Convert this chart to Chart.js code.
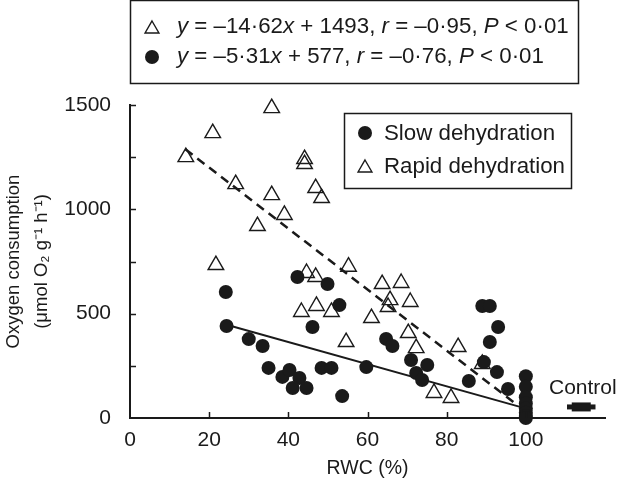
<!DOCTYPE html>
<html>
<head>
<meta charset="utf-8">
<script src="https://cdn.jsdelivr.net/npm/chart.js@4.4.0/dist/chart.umd.min.js"></script>
<style>
  html, body { margin: 0; padding: 0; background: #fff; }
  #wrap { width: 620px; height: 485px; }
</style>
</head>
<body>
<div id="wrap"><canvas id="oxyChart" width="620" height="485"></canvas></div>
<script>
// values (RWC %, umol O2 g-1 h-1)
const rapidX = [14.1, 20.9, 35.8, 21.7, 26.7, 32.2, 35.8, 39.0, 44.1, 44.1, 46.9, 48.4, 44.6, 46.9, 43.3, 47.1,
  50.9, 55.2, 54.6, 63.7, 68.5, 65.7, 65.2, 70.8, 61.0, 70.3, 72.3, 82.9, 76.8, 81.1, 89.0];
const rapidY = [1250, 1365, 1485, 733, 1121, 920, 1068, 973, 1241, 1217, 1102, 1054, 695, 676, 508, 537,
  508, 725, 364, 642, 647, 565, 532, 556, 479, 407, 335, 340, 120, 96, 259];

const slowX = [24.2, 24.4, 30.0, 33.5, 35.0, 38.5, 40.3, 42.8, 41.1, 44.6, 42.3, 49.9, 52.9, 46.1, 48.4, 50.9,
  53.6, 59.7, 64.7, 66.3, 71.0, 75.1, 72.3, 73.8, 85.6, 89.0, 90.9, 93.0, 90.9, 89.4, 92.7, 95.5,
  100, 100, 100, 100, 100, 100, 100, 100];
const slowY = [604, 441, 378, 345, 240, 197, 230, 192, 144, 144, 676, 642, 541, 436, 240, 240,
  105, 244, 379, 345, 278, 254, 216, 182, 177, 537, 537, 436, 364, 268, 220, 139,
  200, 150, 100, 70, 45, 25, 10, 0];

// regression lines, end points
const rapidFitX = [14, 98];
const rapidFitY = [1288, 60];
const slowFitX = [24.4, 99];
const slowFitY = [447, 51];

// control mean and error
const controlX = [114];
const controlY = [53];
const controlErr = [3.6];

const xTicks = [0, 20, 40, 60, 80, 100];
const yTicks = [0, 500, 1000, 1500];
const yMinorStep = 250;

const ink = '#1a1a1a';
const FONT = '"Liberation Sans", Arial, Helvetica, sans-serif';
const markHalf = 2.4;

const toPts = (xs, ys) => xs.map((x, i) => ({ x: x, y: ys[i] }));

const extras = {
  id: 'extras',
  afterDraw(chart) {
    const ctx = chart.ctx;
    const xs = chart.scales.x, ys = chart.scales.y;
    const area = chart.chartArea;
    ctx.save();
    ctx.strokeStyle = ink;
    ctx.lineWidth = 1.5;
    // inward tick marks
    ctx.beginPath();
    for (let v = yMinorStep; v <= ys.max; v += yMinorStep) {
      const py = Math.round(ys.getPixelForValue(v)) + 0.5;
      ctx.moveTo(area.left, py);
      ctx.lineTo(area.left + 6, py);
    }
    xTicks.slice(1).forEach(v => {
      const px = Math.round(xs.getPixelForValue(v)) + 0.5;
      ctx.moveTo(px, area.bottom);
      ctx.lineTo(px, area.bottom - 6);
    });
    ctx.stroke();

    // Control label
    ctx.fillStyle = ink;
    ctx.font = '21px ' + FONT;
    ctx.textAlign = 'center';
    ctx.textBaseline = 'middle';
    ctx.fillText('Control', xs.getPixelForValue(114.4), ys.getPixelForValue(144));

    const tri = { pointStyle: 'triangle', radius: 8, borderWidth: 1.4 };
    const dot = { pointStyle: 'circle', radius: 7, borderWidth: 0 };
    const marker = (o, x, y, fill) => {
      ctx.fillStyle = fill;
      ctx.strokeStyle = ink;
      ctx.lineWidth = o.borderWidth || 1;
      Chart.helpers.drawPoint(ctx, o, x, y);
    };

    // equation box
    ctx.lineWidth = 1.5;
    ctx.strokeStyle = ink;
    ctx.strokeRect(130.5, 0.5, 448, 83);
    marker(tri, 152, 29, 'rgba(0,0,0,0)');
    marker(dot, 152, 57, ink);
    const runs = (parts, x, y) => {
      ctx.textAlign = 'left';
      ctx.fillStyle = ink;
      parts.forEach(p => {
        ctx.font = (p[1] ? 'italic ' : '') + '22.3px ' + FONT;
        ctx.fillText(p[0], x, y);
        x += ctx.measureText(p[0]).width;
      });
    };
    runs([['y', 1], [' = \u201314\u00b762', 0], ['x', 1], [' + 1493, ', 0], ['r', 1], [' = \u20130\u00b795, ', 0], ['P', 1], [' < 0\u00b701', 0]], 177, 27);
    runs([['y', 1], [' = \u20135\u00b731', 0], ['x', 1], [' + 577, ', 0], ['r', 1], [' = \u20130\u00b776, ', 0], ['P', 1], [' < 0\u00b701', 0]], 177, 57);

    // series legend
    ctx.lineWidth = 1.5;
    ctx.strokeStyle = ink;
    ctx.strokeRect(344.5, 113.5, 227, 75);
    marker(dot, 365, 133, ink);
    marker(tri, 365, 168, 'rgba(0,0,0,0)');
    runs([['Slow dehydration', 0]], 384, 134);
    runs([['Rapid dehydration', 0]], 384, 167);
    ctx.restore();
  }
};

new Chart(document.getElementById('oxyChart'), {
  type: 'scatter',
  data: {
    datasets: [
      {
        label: 'Slow dehydration',
        data: toPts(slowX, slowY),
        pointStyle: 'circle',
        pointRadius: 7,
        pointBackgroundColor: ink,
        pointBorderWidth: 0,
        clip: false
      },
      {
        label: 'Rapid dehydration',
        data: toPts(rapidX, rapidY),
        pointStyle: 'triangle',
        pointRadius: 9,
        pointBackgroundColor: 'rgba(0,0,0,0)',
        pointBorderColor: ink,
        pointBorderWidth: 1.4,
        clip: false
      },
      {
        type: 'line',
        data: toPts(rapidFitX, rapidFitY),
        borderColor: ink,
        borderWidth: 2.5,
        borderDash: [9, 6],
        pointRadius: 0
      },
      {
        type: 'line',
        data: toPts(slowFitX, slowFitY),
        borderColor: ink,
        borderWidth: 2,
        pointRadius: 0
      },
      {
        type: 'line',
        data: [{ x: controlX[0] - controlErr[0], y: controlY[0] }, { x: controlX[0] + controlErr[0], y: controlY[0] }],
        borderColor: ink,
        borderWidth: 5,
        borderCapStyle: 'butt',
        pointRadius: 0
      },
      {
        type: 'line',
        data: [{ x: controlX[0] - markHalf, y: controlY[0] }, { x: controlX[0] + markHalf, y: controlY[0] }],
        borderColor: ink,
        borderWidth: 9,
        borderCapStyle: 'butt',
        pointRadius: 0
      }
    ]
  },
  options: {
    responsive: false,
    animation: false,
    devicePixelRatio: 1,
    layout: { padding: { top: 105, right: 15, left: 0, bottom: 0 } },
    plugins: { legend: { display: false }, tooltip: { enabled: false } },
    scales: {
      x: {
        type: 'linear',
        min: 0,
        max: 120,
        afterFit: s => { s.height = 67; },
        afterBuildTicks: s => { s.ticks = xTicks.map(v => ({ value: v })); },
        grid: { display: false },
        border: { display: true, color: ink, width: 2 },
        ticks: { color: ink, padding: 2, font: { size: 21, family: FONT }, callback: v => String(v) },
        title: { display: true, text: 'RWC (%)', color: ink, font: { size: 19.5, family: FONT }, padding: { top: 0, bottom: 5 } }
      },
      y: {
        type: 'linear',
        min: 0,
        max: 1500,
        afterFit: s => { s.width = 130; },
        afterBuildTicks: s => { s.ticks = yTicks.map(v => ({ value: v })); },
        grid: { display: false },
        border: { display: true, color: ink, width: 2 },
        ticks: { color: ink, padding: 11, font: { size: 21, family: FONT }, callback: v => String(v) },
        title: {
          display: true,
          text: ['Oxygen consumption', '(\u03bcmol O\u2082 g\u207b\u00b9 h\u207b\u00b9)'],
          color: ink,
          font: { size: 18.5, family: FONT, lineHeight: 1.5 },
          padding: { top: 0, bottom: 0 }
        }
      }
    }
  },
  plugins: [extras]
});
</script>
</body>
</html>
